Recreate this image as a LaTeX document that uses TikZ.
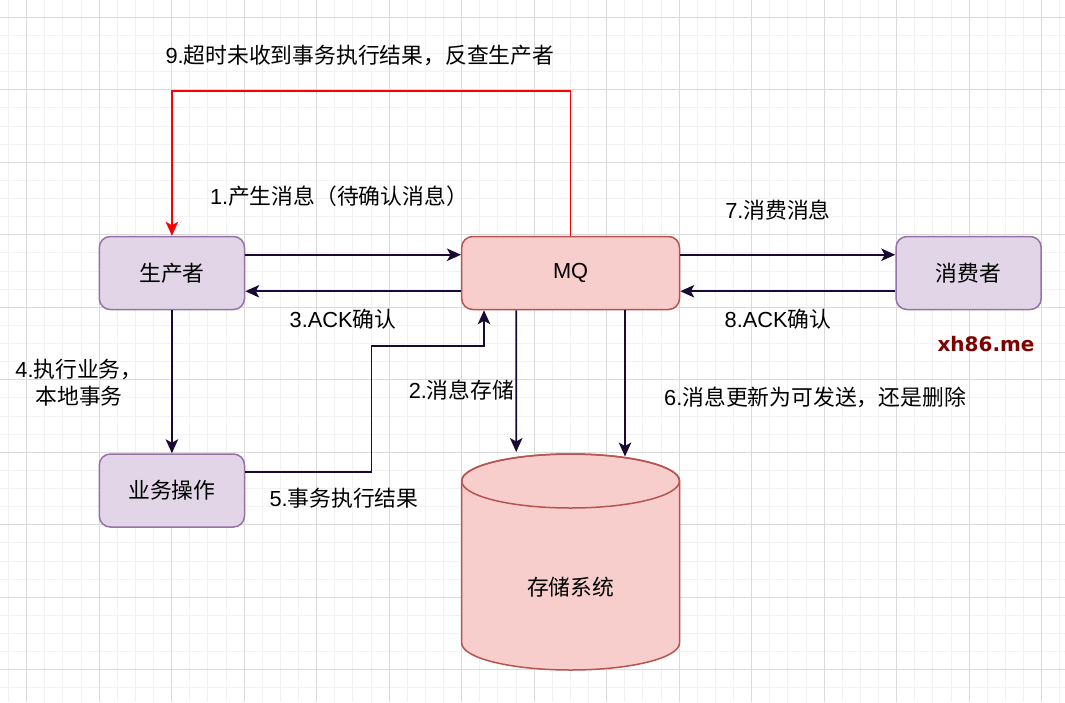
\documentclass[tikz,border=0pt]{standalone}
\usepackage{fontspec}
\setmainfont{Noto Sans CJK SC}
\newfontfamily\latf{Liberation Sans}
\newfontfamily\wmf{DejaVu Sans}
\usetikzlibrary{arrows.meta}
\definecolor{minorc}{RGB}{242,242,242}
\definecolor{majorc}{RGB}{218,218,218}
\definecolor{arrc}{RGB}{26,10,51}
\definecolor{pfill}{HTML}{E1D5E7}
\definecolor{pline}{HTML}{9673A6}
\definecolor{rfill}{HTML}{F8CECC}
\definecolor{rline}{HTML}{B85450}
\definecolor{wmc}{RGB}{128,0,0}
\newcommand{\latn}[1]{{\latf #1}}
\tikzset{
  box/.style={draw, line width=1.5pt, rounded corners=11pt, minimum height=73pt, inner sep=0pt,
    font=\fontsize{21.8}{27}\selectfont},
  pbox/.style={box, fill=pfill, draw=pline, minimum width=145.2pt},
  rbox/.style={box, fill=rfill, draw=rline, minimum width=217.8pt},
  arr/.style={draw=arrc, line width=1.6pt, -{Stealth[length=14pt,width=12.5pt,inset=3.5pt]}},
  redarr/.style={draw=red, line width=1.6pt, -{Stealth[length=14pt,width=12.5pt,inset=3.5pt,fill=red]}},
  lbl/.style={font=\fontsize{21.8}{27}\selectfont, inner sep=0pt, align=center, text=black},
  minorg/.style={draw=minorc, line width=1pt},
  majorg/.style={draw=majorc, line width=1pt}
}
\begin{document}
\begin{tikzpicture}[x=1pt,y=-1pt]
\fill[white] (0,0) rectangle (1065,702);
\useasboundingbox (0,0) rectangle (1065,702);
% grid
\foreach \i in {0,...,58} { \draw[minorg] ({8.575+18.125*\i},0) -- ({8.575+18.125*\i},702); }
\foreach \j in {0,...,37} { \draw[minorg] (0,{17.3+18.125*\j}) -- (1065,{17.3+18.125*\j}); }
\foreach \k in {0,...,14} { \draw[majorg] ({26.7+72.5*\k},0) -- ({26.7+72.5*\k},702); }
\foreach \k in {0,...,9} { \draw[majorg] (0,{17.3+72.5*\k}) -- (1065,{17.3+72.5*\k}); }

% cylinder
\filldraw[fill=rfill, draw=rline, line width=1.5pt]
  (461.7,481) -- (461.7,643) arc[start angle=180, end angle=360, x radius=108.9pt, y radius=27pt]
  -- (679.5,481) arc[start angle=0, end angle=180, x radius=108.9pt, y radius=27pt] -- cycle;
\draw[rline, line width=1.5pt] (570.6,481) ellipse [x radius=108.9pt, y radius=27pt];
\node[lbl] (store) at (570.6,587) {存储系统};
\coordinate (s2) at (516.2,452);
\coordinate (s6) at (625.0,456.5);

% boxes
\node[pbox] (prod) at (171.9,273) {生产者};
\node[rbox] (mq) at (570.6,273) {\latn{MQ}};
\node[pbox] (cons) at (968.6,273) {消费者};
\node[pbox] (biz) at (171.9,490.5) {业务操作};

% connectors
\coordinate (r9) at (371,91);
\draw[redarr] (mq.north) |- (r9) -| (prod.north);
\draw[arr] ([yshift=18.25pt]prod.east) -- ([yshift=18.25pt]mq.west);
\draw[arr] ([yshift=-18.25pt]mq.west) -- ([yshift=-18.25pt]prod.east);
\draw[arr] ([yshift=18.25pt]mq.east) -- ([yshift=18.25pt]cons.west);
\draw[arr] ([yshift=-18.25pt]cons.west) -- ([yshift=-18.25pt]mq.east);
\draw[arr] (prod.south) -- (biz.north);
\coordinate (c5) at (371.5,346);
\draw[arr] ([yshift=18.25pt]biz.east) -| (c5) -| ([xshift=-86.6pt]mq.south);
\draw[arr] ([xshift=-54.4pt]mq.south) -- (s2);
\draw[arr] ([xshift=54.4pt]mq.south) -- (s6);

% labels
\node[lbl] (l9) at (360,55) {\latn{9.}超时未收到事务执行结果，反查生产者};
\node[lbl] (l1) at (339,196.5) {\latn{1.}产生消息（待确认消息）};
\node[lbl] (l3) at (343,319) {\latn{3.ACK}确认};
\node[lbl] (l4) at (79,383) {\latn{4.}执行业务，\\本地事务};
\node[lbl] (l2) at (461.5,390) {\latn{2.}消息存储};
\node[lbl] (l5) at (344,498) {\latn{5.}事务执行结果};
\node[lbl] (l6) at (815,397) {\latn{6.}消息更新为可发送，还是删除};
\node[lbl] (l7) at (778,210) {\latn{7.}消费消息};
\node[lbl] (l8) at (778,319) {\latn{8.ACK}确认};
\node[inner sep=0pt, text=wmc, font=\wmf\bfseries\fontsize{20}{24}\selectfont] (wm) at (986,344) {xh86.me};
\end{tikzpicture}
\end{document}
